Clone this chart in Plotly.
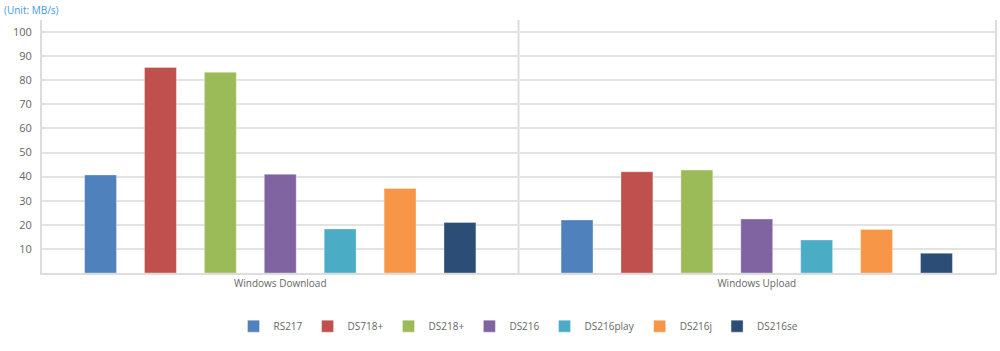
import plotly.graph_objects as go

categories = ["Windows Download", "Windows Upload"]
models = ["RS217", "DS718+", "DS218+", "DS216", "DS216play", "DS216j", "DS216se"]
rs217 = [40.7, 22.0]
ds718p = [85.3, 42.0]
ds218p = [83.3, 42.7]
ds216 = [41.0, 22.4]
ds216play = [18.3, 13.7]
ds216j = [35.1, 18.1]
ds216se = [21.0, 8.2]
series = [rs217, ds718p, ds218p, ds216, ds216play, ds216j, ds216se]
colors = ["#4F81BD", "#C0504D", "#9BBB59", "#8064A2", "#4BACC6", "#F79646", "#2C4D75"]
ytick_vals = [10, 20, 30, 40, 50, 60, 70, 80, 90, 100]

fig = go.Figure()
for name, vals, c in zip(models, series, colors):
    fig.add_trace(go.Bar(
        name=name, x=categories, y=vals,
        marker=dict(color=c, line=dict(color="rgba(255,255,255,0.35)", width=1)),
    ))

fig.update_layout(
    width=1000, height=351,
    margin=dict(l=42, r=3, t=20, b=78),
    paper_bgcolor="white", plot_bgcolor="white",
    barmode="group", bargap=0.12, bargroupgap=0.467,
    font=dict(family="Open Sans, Noto Sans, sans-serif", size=11, color="#666666"),
    showlegend=True,
    legend=dict(orientation="h", x=0.5, xanchor="center", y=-0.21, yanchor="middle",
                font=dict(size=10, color="#666666"), itemwidth=30,
                traceorder="normal"),
    xaxis=dict(showgrid=False, showline=True, linecolor="#dddddd", linewidth=2,
               ticks="", tickfont=dict(size=10, color="#666666"), fixedrange=True),
    yaxis=dict(range=[0, 105], tickvals=ytick_vals, showgrid=True,
               gridcolor="#e3e3e3", gridwidth=2, showline=True, linecolor="#dddddd",
               linewidth=2, mirror=True, ticks="", zeroline=False,
               tickfont=dict(size=11, color="#666666"), ticklabelstandoff=6),
    annotations=[dict(text="(Unit: MB/s)", xref="paper", yref="paper",
                      x=-0.042, y=(273 - 10) / 253, xanchor="left", yanchor="middle",
                      showarrow=False, font=dict(size=10, color="#3d9be0"))],
    shapes=[dict(type="line", xref="x", yref="paper", x0=0.5, x1=0.5, y0=0, y1=1,
                 line=dict(color="#dddddd", width=2), layer="below")],
)

fig.write_html("out.html")
